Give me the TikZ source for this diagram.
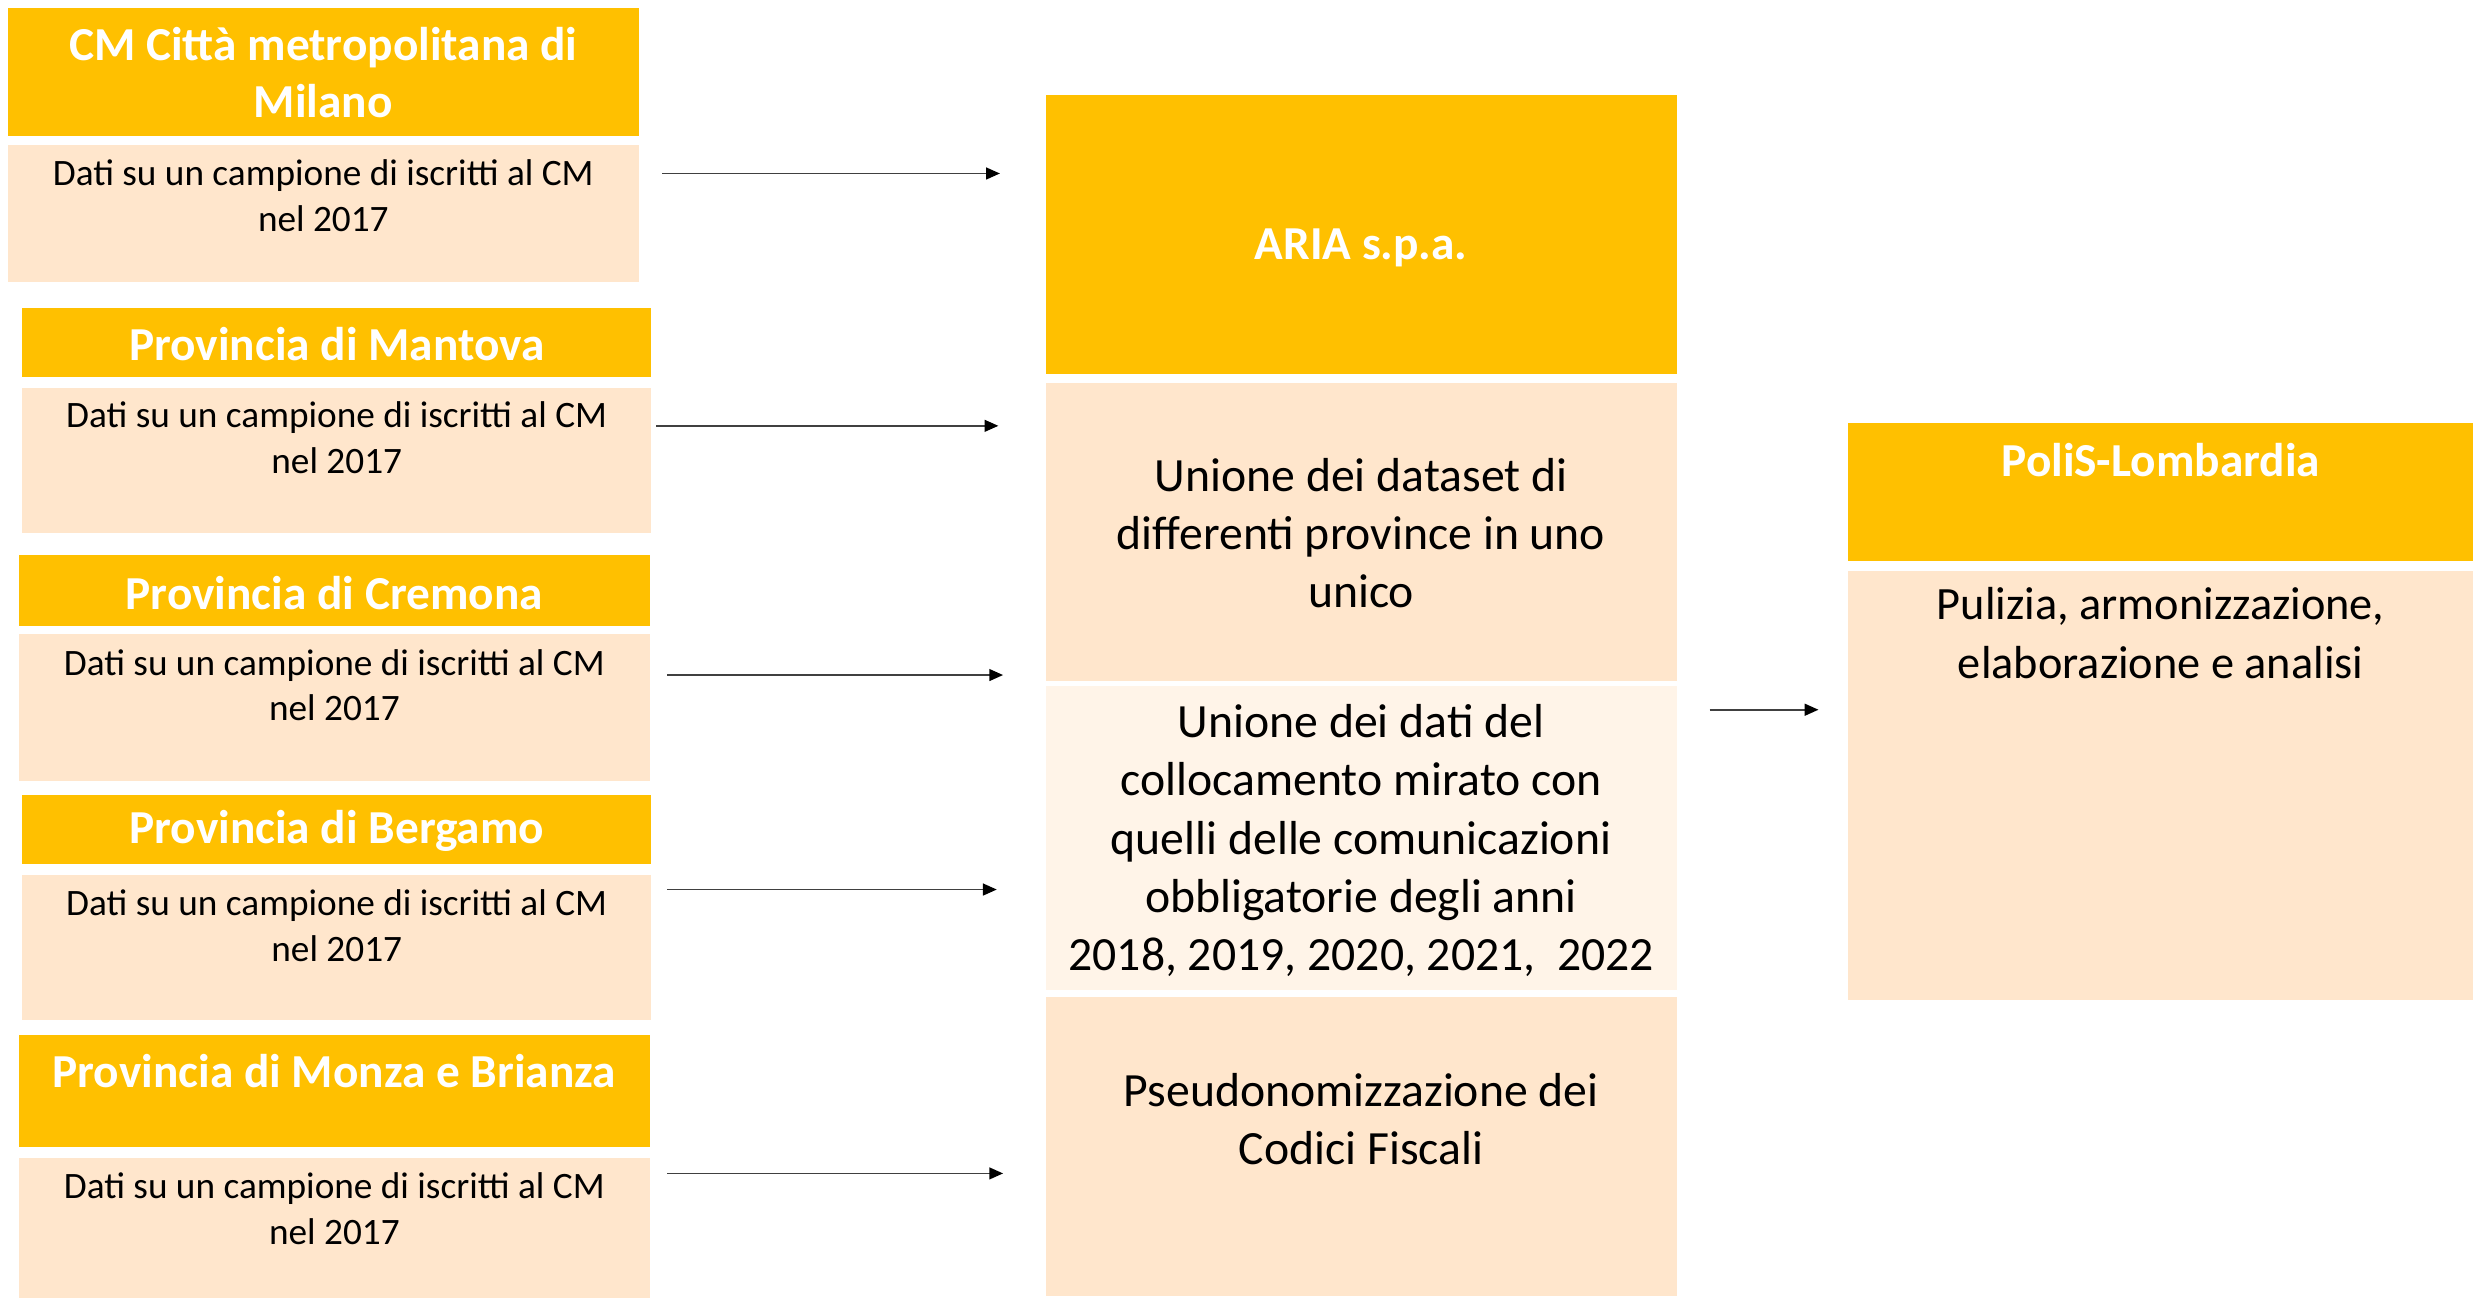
\documentclass[tikz,border=0pt]{standalone}
\usepackage{fontspec}
\setmainfont{Carlito}
\usetikzlibrary{arrows.meta}
\definecolor{gold}{HTML}{FFC000}
\definecolor{peach}{HTML}{FFE6CC}
\definecolor{pale}{HTML}{FFF4E8}
\definecolor{arrowgray}{HTML}{404040}
\newcommand\mybox[6]{\node[#6, minimum width={(#4-#2)*0.8pt}, minimum height={(#5-#3)*0.8pt}] (#1) at ({(#2+#4)/2},{(#3+#5)/2}) {};}
\begin{document}
\begin{tikzpicture}[x=0.8pt,y=-0.8pt,
  boxbase/.style={draw=none, inner sep=0, outer sep=0, rectangle},
  hdr/.style={boxbase, fill=gold},
  bodybox/.style={boxbase, fill=peach},
  palebox/.style={boxbase, fill=pale},
  htext/.style={text=white, font=\bfseries\fontsize{24}{28.8}\selectfont, align=center, inner sep=0},
  btext/.style={font=\fontsize{18.9}{23.1}\selectfont, align=center, inner sep=0},
  mtext/.style={font=\fontsize{24.2}{29.6}\selectfont, align=center, inner sep=0},
  rtext/.style={font=\fontsize{23.5}{29.6}\selectfont, align=center, inner sep=0},
  conn/.style={draw=arrowgray, line width=0.9pt, -{Triangle[length=7pt,width=6pt,color=black]}}]
\useasboundingbox (0,0) rectangle (1568,824.3);
% left column
\mybox{h1}{5}{5}{405}{86}{hdr}
\mybox{b1}{5}{92}{405}{179}{bodybox}
\mybox{h2}{14}{195}{413}{239}{hdr}
\mybox{b2}{14}{246}{413}{338}{bodybox}
\mybox{h3}{12}{352}{412}{397}{hdr}
\mybox{b3}{12}{402}{412}{495}{bodybox}
\mybox{h4}{14}{504}{413}{548}{hdr}
\mybox{b4}{14}{555}{413}{647}{bodybox}
\mybox{h5}{12}{656}{412}{727}{hdr}
\mybox{b5}{12}{734}{412}{823}{bodybox}
% middle column
\mybox{aria}{663}{60}{1063}{237}{hdr}
\mybox{m1}{663}{243}{1063}{432}{bodybox}
\mybox{m2}{663}{435}{1063}{628}{palebox}
\mybox{m3}{663}{632}{1063}{822}{bodybox}
% right column
\mybox{polis}{1172}{268}{1568}{356}{hdr}
\mybox{r1}{1172}{362}{1568}{634}{bodybox}
% texts
\node[htext] (t1) at (205,46) {CM Città metropolitana di\\Milano};
\node[btext] (u1) at (205,124) {Dati su un campione di iscritti al CM\\nel 2017};
\node[htext] (t2) at (213.5,218) {Provincia di Mantova};
\node[btext] (u2) at (213.5,277.5) {Dati su un campione di iscritti al CM\\nel 2017};
\node[htext] (t3) at (212,376) {Provincia di Cremona};
\node[btext] (u3) at (212,434.5) {Dati su un campione di iscritti al CM\\nel 2017};
\node[htext] (t4) at (213.5,527) {Provincia di Bergamo};
\node[btext] (u4) at (213.5,587) {Dati su un campione di iscritti al CM\\nel 2017};
\node[htext] (t5) at (212,679) {Provincia di Monza e Brianza};
\node[btext] (u5) at (212,766.5) {Dati su un campione di iscritti al CM\\nel 2017};
\node[htext] (ta) at (863,157) {ARIA s.p.a.};
\node[mtext] (tm1) at (863,338) {Unione dei dataset di\\differenti province in uno\\unico};
\node[mtext] (tm2) at (863,533) {Unione dei dati del\\collocamento mirato con\\quelli delle comunicazioni\\obbligatorie degli anni\\2018, 2019, 2020, 2021,\ \ 2022};
\node[mtext] (tm3) at (863,709.5) {Pseudonomizzazione dei\\Codici Fiscali};
\node[htext] (tp) at (1370,292) {PoliS-Lombardia};
\node[rtext] (tr1) at (1370,401.5) {Pulizia, armonizzazione,\\elaborazione e analisi};
% connectors
\coordinate (s1) at (420,110); \coordinate (e1) at (634,110);
\coordinate (s2) at (416,270); \coordinate (e2) at (633,270);
\coordinate (s3) at (423,428); \coordinate (e3) at (636,428);
\coordinate (s4) at (423,564); \coordinate (e4) at (632,564);
\coordinate (s5) at (423,744); \coordinate (e5) at (636,744);
\coordinate (s6) at (1084,450); \coordinate (e6) at (1153,450);
\draw[conn] (s1) -- (e1);
\draw[conn] (s2) -- (e2);
\draw[conn] (s3) -- (e3);
\draw[conn] (s4) -- (e4);
\draw[conn] (s5) -- (e5);
\draw[conn] (s6) -- (e6);
\end{tikzpicture}
\end{document}
